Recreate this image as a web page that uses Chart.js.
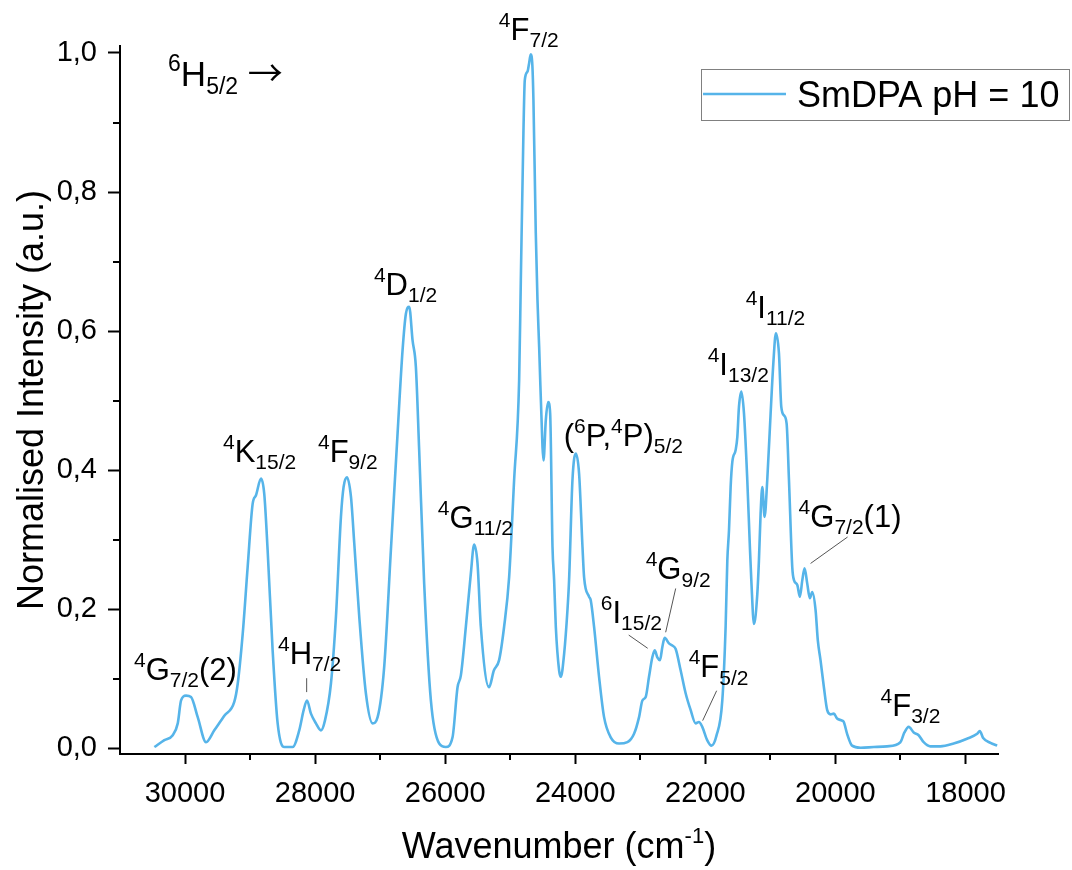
<!DOCTYPE html>
<html>
<head>
<meta charset="utf-8">
<script src="https://cdn.jsdelivr.net/npm/chart.js@4.4.1/dist/chart.umd.min.js"></script>
<style>
  html, body { margin: 0; padding: 0; background: #fff; }
  canvas { display: block; }
</style>
</head>
<body>
<canvas id="spectrum" width="1072" height="870"></canvas>
<script>
// excitation spectrum (wavenumber in cm-1, normalised intensity)
const wavenumber = [
  30472, 30318, 30189, 30112, 30061, 29985, 29908, 29805, 29677, 29550,
  29396, 29243, 29190, 29113, 29037, 28960, 28909, 28832, 28782, 28730,
  28653, 28576, 28474, 28345, 28244, 28176, 28125, 28064, 27987, 27910,
  27849, 27757, 27680, 27603, 27562, 27511, 27449, 27398, 27321, 27219,
  27116, 27039, 26938, 26835, 26732, 26655, 26604, 26553, 26502, 26451,
  26400, 26323, 26220, 26092, 25990, 25887, 25810, 25759, 25682, 25606,
  25555, 25503, 25452, 25325, 25252, 25171, 25094, 25017, 24940, 24863,
  24837, 24797, 24776, 24735, 24710, 24684, 24659, 24643, 24607, 24581,
  24555, 24504, 24488, 24453, 24417, 24386, 24350, 24325, 24299, 24248,
  24222, 24171, 24120, 24095, 24043, 23992, 23941, 23889, 23864, 23787,
  23762, 23711, 23634, 23557, 23455, 23327, 23198, 23096, 23019, 22968,
  22917, 22866, 22815, 22778, 22738, 22697, 22661, 22625, 22559, 22508,
  22456, 22379, 22302, 22225, 22149, 22098, 22047, 21972, 21905, 21830,
  21739, 21688, 21662, 21636, 21611, 21585, 21534, 21508, 21483, 21446,
  21406, 21355, 21315, 21293, 21252, 21201, 21176, 21150, 21124, 21089,
  21048, 20996, 20955, 20915, 20868, 20832, 20791, 20750, 20714, 20663,
  20637, 20586, 20546, 20509, 20474, 20433, 20393, 20356, 20305, 20270,
  20229, 20177, 20126, 20075, 20024, 19974, 19897, 19871, 19820, 19744,
  19613, 19409, 19206, 19001, 18939, 18873, 18796, 18720, 18643, 18540,
  18387, 18182, 17977, 17820, 17780, 17728, 17616, 17513
];
const intensity = [
  0.002, 0.012, 0.019, 0.036, 0.069, 0.076, 0.074, 0.045, 0.009, 0.026,
  0.047, 0.067, 0.093, 0.165, 0.261, 0.352, 0.364, 0.388, 0.366, 0.285,
  0.141, 0.036, 0.002, 0.002, 0.026, 0.055, 0.069, 0.050, 0.036, 0.026,
  0.040, 0.093, 0.189, 0.333, 0.376, 0.390, 0.362, 0.295, 0.189, 0.079,
  0.036, 0.045, 0.117, 0.285, 0.453, 0.573, 0.625, 0.635, 0.587, 0.549,
  0.429, 0.237, 0.069, 0.007, 0.002, 0.016, 0.088, 0.105, 0.175, 0.251,
  0.293, 0.266, 0.175, 0.088, 0.112, 0.127, 0.175, 0.246, 0.386, 0.529,
  0.673, 0.885, 0.961, 0.973, 0.985, 0.998, 0.981, 0.932, 0.741, 0.645,
  0.577, 0.434, 0.414, 0.472, 0.498, 0.482, 0.290, 0.242, 0.175, 0.112,
  0.103, 0.136, 0.199, 0.242, 0.386, 0.424, 0.395, 0.290, 0.246, 0.218,
  0.213, 0.175, 0.103, 0.045, 0.016, 0.007, 0.009, 0.021, 0.045, 0.069,
  0.074, 0.103, 0.131, 0.141, 0.131, 0.127, 0.146, 0.159, 0.151, 0.148,
  0.143, 0.112, 0.079, 0.055, 0.036, 0.038, 0.031, 0.012, 0.004, 0.018,
  0.069, 0.175, 0.270, 0.314, 0.376, 0.412, 0.429, 0.448, 0.491, 0.513,
  0.482, 0.386, 0.290, 0.242, 0.179, 0.222, 0.270, 0.338, 0.376, 0.333,
  0.386, 0.482, 0.553, 0.597, 0.568, 0.491, 0.479, 0.467, 0.386, 0.260,
  0.242, 0.235, 0.218, 0.242, 0.259, 0.237, 0.216, 0.225, 0.199, 0.155,
  0.127, 0.088, 0.055, 0.049, 0.050, 0.043, 0.040, 0.038, 0.021, 0.004,
  0.001, 0.002, 0.003, 0.009, 0.023, 0.031, 0.023, 0.019, 0.009, 0.003,
  0.003, 0.007, 0.014, 0.021, 0.025, 0.015, 0.008, 0.004
];
const seriesName = "SmDPA pH = 10";
const xTickValues = [18000, 20000, 22000, 24000, 26000, 28000, 30000];
const xMinorValues = [19000, 21000, 23000, 25000, 27000, 29000];
const yTickValues = [0, 0.2, 0.4, 0.6, 0.8, 1.0];
const yMinorValues = [0.1, 0.3, 0.5, 0.7, 0.9];

// term labels: ^{..} superscript, _{..} subscript; anchor = left end of baseline
const termLabels = [
  "^{6}H_{5/2} \u2192", "^{4}F_{7/2}", "^{4}D_{1/2}", "^{4}K_{15/2}", "^{4}F_{9/2}",
  "^{4}G_{7/2}(2)", "^{4}H_{7/2}", "^{4}G_{11/2}", "(^{6}P,^{4}P)_{5/2}", "^{4}G_{9/2}",
  "^{6}I_{15/2}", "^{4}F_{5/2}", "^{4}I_{13/2}", "^{4}I_{11/2}", "^{4}G_{7/2}(1)", "^{4}F_{3/2}"
];
const termX = [30261, 25175, 27096, 29416, 27956, 30784, 28571, 26113, 24177, 22917,
               23608, 22256, 21964, 21380, 20566, 19306];
const termY = [0.953, 1.019, 0.652, 0.4115, 0.4115, 0.098, 0.122, 0.317, 0.435, 0.243,
               0.181, 0.102, 0.537, 0.619, 0.318, 0.047];
// short pointer lines: [x1, y1, x2, y2]
const leaders = [
  [28130, 0.101, 28130, 0.081],
  [22456, 0.230, 22610, 0.167],
  [23178, 0.163, 22886, 0.144],
  [21826, 0.083, 22041, 0.040],
  [19813, 0.304, 20382, 0.266]
];

const FONT = "'Liberation Sans', Arial, Helvetica, sans-serif";
const ARROW_FONT = "'Noto Sans CJK JP', 'Noto Sans', sans-serif";
const LINE = "#56b4e9";

function drawRich(ctx, markup, x, y, size, small, align) {
  const parts = markup.match(/\^\{[^}]*\}|_\{[^}]*\}|\u2192|[^^_\u2192]+/g) || [];
  const segs = parts.map((p) => {
    if (p.startsWith("^{")) return { t: p.slice(2, -1), f: small + "px " + FONT, dy: -0.42 * size };
    if (p.startsWith("_{")) return { t: p.slice(2, -1), f: small + "px " + FONT, dy: 0.23 * size };
    if (p === "\u2192") return { t: p, f: Math.round(size * 1.0) + "px " + ARROW_FONT, dy: 0 };
    return { t: p, f: size + "px " + FONT, dy: 0 };
  });
  let total = 0;
  segs.forEach((s) => {
    ctx.font = s.f;
    s.w = ctx.measureText(s.t).width;
    total += s.w;
  });
  let cx = align === "center" ? x - total / 2 : x;
  ctx.textAlign = "left";
  ctx.textBaseline = "alphabetic";
  segs.forEach((s) => {
    ctx.font = s.f;
    ctx.fillText(s.t, cx, y + s.dy);
    cx += s.w;
  });
}

const extras = {
  id: "extras",
  afterDraw(chart) {
    const { ctx, chartArea, scales } = chart;
    const xs = scales.x, ys = scales.y;
    ctx.save();
    ctx.fillStyle = "#000";
    ctx.strokeStyle = "#000";

    // minor ticks
    ctx.lineWidth = 2;
    ctx.beginPath();
    xMinorValues.forEach((v) => {
      const px = Math.round(xs.getPixelForValue(v));
      ctx.moveTo(px, chartArea.bottom);
      ctx.lineTo(px, chartArea.bottom + 6);
    });
    yMinorValues.forEach((v) => {
      const py = Math.round(ys.getPixelForValue(v));
      ctx.moveTo(chartArea.left, py);
      ctx.lineTo(chartArea.left - 7, py);
    });
    ctx.stroke();

    // axis titles
    drawRich(ctx, "Wavenumber (cm^{-1})", (chartArea.left + chartArea.right) / 2, 858, 36, 22, "center");
    ctx.save();
    ctx.translate(43, (chartArea.top + chartArea.bottom) / 2);
    ctx.rotate(-Math.PI / 2);
    drawRich(ctx, "Normalised Intensity (a.u.)", 0, 0, 36, 22, "center");
    ctx.restore();

    // term labels
    termLabels.forEach((lab, i) => {
      const big = i === 0 ? 35 : 31;
      const small = i === 0 ? 23 : 21;
      drawRich(ctx, lab, xs.getPixelForValue(termX[i]), ys.getPixelForValue(termY[i]), big, small, "left");
    });
    ctx.strokeStyle = "#555";
    ctx.lineWidth = 1;
    leaders.forEach((l) => {
      ctx.beginPath();
      ctx.moveTo(xs.getPixelForValue(l[0]), ys.getPixelForValue(l[1]));
      ctx.lineTo(xs.getPixelForValue(l[2]), ys.getPixelForValue(l[3]));
      ctx.stroke();
    });

    // legend box
    ctx.strokeStyle = "#808080";
    ctx.lineWidth = 1;
    ctx.strokeRect(701.5, 69.5, 368, 51);
    ctx.strokeStyle = LINE;
    ctx.lineWidth = 2.6;
    ctx.beginPath();
    ctx.moveTo(703, 94);
    ctx.lineTo(786, 94);
    ctx.stroke();
    ctx.fillStyle = "#000";
    ctx.font = "36px " + FONT;
    ctx.textAlign = "left";
    ctx.textBaseline = "alphabetic";
    ctx.fillText(seriesName, 797, 107);
    ctx.restore();
  }
};

const canvas = document.getElementById("spectrum");
new Chart(canvas.getContext("2d"), {
  type: "line",
  data: {
    datasets: [{
      label: seriesName,
      data: wavenumber.map((w, i) => ({ x: w, y: intensity[i] })),
      borderColor: LINE,
      borderWidth: 2.6,
      pointRadius: 0,
      fill: false,
      cubicInterpolationMode: "monotone"
    }]
  },
  options: {
    responsive: false,
    devicePixelRatio: 1,
    animation: false,
    layout: { padding: { top: 46, right: 74, left: 0, bottom: 0 } },
    plugins: { legend: { display: false }, tooltip: { enabled: false } },
    scales: {
      x: {
        type: "linear",
        reverse: true,
        min: 17500,
        max: 31000,
        afterBuildTicks: (s) => { s.ticks = xTickValues.map((v) => ({ value: v })); },
        afterFit: (s) => { s.height = 116; },
        border: { display: true, color: "#000", width: 2 },
        grid: { drawOnChartArea: false, drawTicks: true, tickLength: 10, tickWidth: 2, tickColor: "#000" },
        ticks: {
          autoSkip: false, maxRotation: 0,
          padding: 13, color: "#000", font: { family: FONT, size: 29 },
          callback: (v) => String(v)
        }
      },
      y: {
        type: "linear",
        min: -0.008,
        max: 1.01,
        afterBuildTicks: (s) => { s.ticks = yTickValues.map((v) => ({ value: v })); },
        afterFit: (s) => { s.width = 120; },
        border: { display: true, color: "#000", width: 2 },
        grid: { drawOnChartArea: false, drawTicks: true, tickLength: 12, tickWidth: 2, tickColor: "#000" },
        ticks: {
          autoSkip: false,
          padding: 11, color: "#000", font: { family: FONT, size: 29 },
          callback: (v) => v.toFixed(1).replace(".", ",")
        }
      }
    }
  },
  plugins: [extras]
});
</script>
</body>
</html>
